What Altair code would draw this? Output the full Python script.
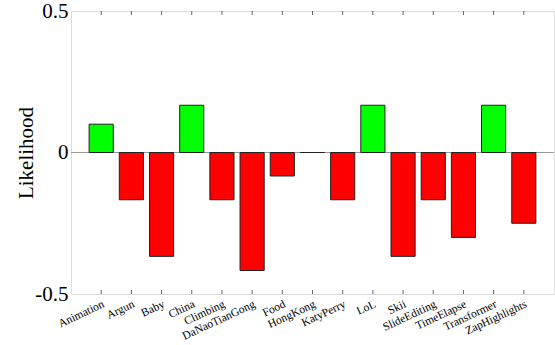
import altair as alt
import pandas as pd

categories = ["Animation", "Argun", "Baby", "China", "Climbing", "DaNaoTianGong",
              "Food", "HongKong", "KatyPerry", "LoL", "Skii", "SlideEditing",
              "TimeElapse", "Transformer", "ZapHighlights"]
likelihood = [0.1, -0.167, -0.367, 0.167, -0.167, -0.417, -0.083, 0.0,
              -0.167, 0.167, -0.367, -0.167, -0.3, 0.167, -0.25]
y_ticks = [-0.5, 0, 0.5]

df = pd.DataFrame({"cat": categories, "v": likelihood})
df["sign"] = ["pos" if v > 0 else "neg" for v in likelihood]

W, H = 483, 283
FONT = "Liberation Serif"
FRAME = "#666666"

xscale = alt.Scale(domain=categories, paddingInner=0.2, paddingOuter=0.6)
yscale = alt.Scale(domain=[-0.5, 0.5], nice=False, zero=False)

yaxis = alt.Axis(title="Likelihood", values=y_ticks,
                 labelExpr="toString(datum.value)", grid=False,
                 labelFont=FONT, labelFontSize=21, labelColor="#000000",
                 labelFlush=False, tickSize=0, labelPadding=3, domain=False,
                 titleFont=FONT, titleFontSize=21, titleFontWeight="normal",
                 titleColor="#000000", titleAngle=270, titleX=-39,
                 titleY=H / 2, titleAlign="center", titleBaseline="alphabetic")

base = alt.Chart(df)

zero = alt.Chart(pd.DataFrame({"z": [0]})).mark_rule(color="#999999", strokeWidth=1).encode(
    y=alt.Y("z:Q", scale=yscale, axis=yaxis, title="Likelihood")
)

bars = base.mark_bar(stroke="#222222", strokeWidth=1, opacity=1).encode(
    x=alt.X("cat:N", scale=xscale, sort=None,
            axis=alt.Axis(title=None, labelAngle=-25, labelFont=FONT, labelFontSize=11.5,
                          labelColor="#000000", tickSize=0, domain=False, grid=False,
                          labelPadding=4, labelAlign="right", labelBaseline="top")),
    y=alt.Y("v:Q", scale=yscale, axis=yaxis, title="Likelihood"),
    y2=alt.datum(0),
    color=alt.Color("sign:N", scale=alt.Scale(domain=["pos", "neg"],
                                              range=["#00ff00", "#ff0000"]), legend=None),
)

ticks_bottom = base.mark_rule(color=FRAME, strokeWidth=1).encode(
    x=alt.X("cat:N", scale=xscale, sort=None),
    y=alt.value(H), y2=alt.value(H - 4),
)
ticks_top = base.mark_rule(color=FRAME, strokeWidth=1).encode(
    x=alt.X("cat:N", scale=xscale, sort=None),
    y=alt.value(0), y2=alt.value(4),
)

chart = alt.layer(zero, bars, ticks_bottom, ticks_top).properties(
    width=W, height=H,
    autosize=alt.AutoSizeParams(type="none"),
    padding={"left": 71, "top": 11, "right": 1, "bottom": 51},
).configure_view(stroke=FRAME, strokeWidth=1).configure_axis(
    labelFont=FONT, titleFont=FONT
).configure(background="white", font=FONT)

chart.save("out.html", embed_options={"renderer": "svg", "actions": False})
